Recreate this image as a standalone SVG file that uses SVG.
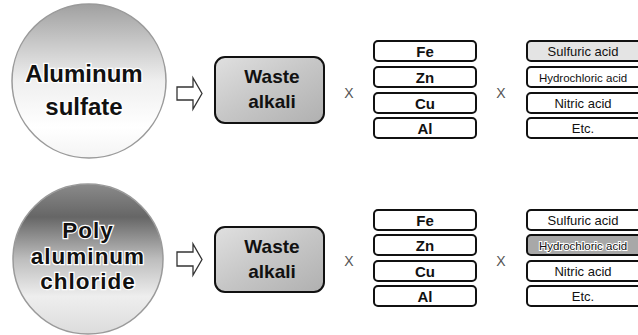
<svg xmlns="http://www.w3.org/2000/svg" width="638" height="335" viewBox="0 0 638 335">
<defs>
<linearGradient id="c1" x1="0" y1="0" x2="0" y2="1">
<stop offset="0" stop-color="#a0a0a0"/>
<stop offset="0.25" stop-color="#c8c8c8"/>
<stop offset="0.5" stop-color="#efefef"/>
<stop offset="0.8" stop-color="#ffffff"/>
<stop offset="1" stop-color="#f4f4f4"/>
</linearGradient>
<linearGradient id="c2" x1="0" y1="0" x2="0" y2="1">
<stop offset="0" stop-color="#8a8a8a"/>
<stop offset="0.22" stop-color="#666666"/>
<stop offset="0.5" stop-color="#bdbdbd"/>
<stop offset="0.75" stop-color="#eeeeee"/>
<stop offset="1" stop-color="#dcdcdc"/>
</linearGradient>
<linearGradient id="wa" x1="0" y1="0" x2="1" y2="1">
<stop offset="0" stop-color="#e0e0e0"/>
<stop offset="0.5" stop-color="#c6c6c6"/>
<stop offset="1" stop-color="#b0b0b0"/>
</linearGradient>
<linearGradient id="al" x1="0" y1="0" x2="1" y2="0">
<stop offset="0" stop-color="#d8d8d8"/>
<stop offset="0.45" stop-color="#f2f2f2"/>
<stop offset="0.6" stop-color="#ffffff"/>
<stop offset="1" stop-color="#d0d0d0"/>
</linearGradient>
</defs>
<style>
.circ{stroke:#9a9a9a;stroke-width:1.5}
.big{font-family:"Liberation Sans",Arial,sans-serif;font-weight:700;font-size:24px;text-anchor:middle;fill:#111;stroke:#fff;stroke-width:2.5;paint-order:stroke}
.big2{font-size:22.5px;letter-spacing:1px}
.wa{fill:url(#wa);stroke:#111;stroke-width:2}
.wat{font-family:"Liberation Sans",Arial,sans-serif;font-weight:700;font-size:19px;text-anchor:middle;fill:#111}
.arr{fill:#fff;stroke:#333;stroke-width:1.3;stroke-linejoin:miter}
.x{font-family:"Liberation Sans",sans-serif;font-size:14px;text-anchor:middle;fill:#555}
.box{fill:#fff;stroke:#111;stroke-width:2}
.mt{font-family:"Liberation Sans",sans-serif;font-weight:700;font-size:15px;text-anchor:middle;fill:#111}
.at{font-family:"Liberation Sans",sans-serif;font-size:13px;text-anchor:middle;fill:#111}
.ah{font-size:11.5px}
.halo{stroke:#fff;stroke-width:2;paint-order:stroke}
</style>

<g id="row1-circle">
<circle class="circ" cx="89" cy="81" r="77" fill="url(#c1)"/>
<text class="big" x="84" y="82">Aluminum</text>
<text class="big" x="84" y="115">sulfate</text>
</g>
<g id="row2-circle">
<circle class="circ" cx="88" cy="259" r="75" fill="url(#c2)"/>
<text class="big big2" x="88" y="238">Poly</text>
<text class="big big2" x="88" y="263.5">aluminum</text>
<text class="big big2" x="88" y="289">chloride</text>
</g>

<g id="connectors">
<path class="arr" d="M177,87 H193 V78 L202,93.5 L193,109 V100 H177 Z"/>
<path class="arr" d="M177,252 H193 V244 L202,259.5 L193,275 V266 H177 Z"/>
<text class="x" x="349" y="98">X</text>
<text class="x" x="501" y="98">X</text>
<text class="x" x="349" y="266">X</text>
<text class="x" x="501" y="266">X</text>
</g>

<g id="row1-waste">
<rect class="wa" x="215" y="57" width="109" height="66" rx="10"/>
<text class="wat" x="272" y="83">Waste</text>
<text class="wat" x="272" y="108">alkali</text>
</g>
<g id="row2-waste">
<rect class="wa" x="215" y="227" width="109" height="65" rx="10"/>
<text class="wat" x="272" y="253">Waste</text>
<text class="wat" x="272" y="278">alkali</text>
</g>

<g id="row1-metals">
<rect class="box" x="374" y="41" width="102" height="20" rx="4"/>
<text class="mt" x="425" y="57">Fe</text>
<rect class="box" x="374" y="67" width="102" height="20" rx="4"/>
<text class="mt" x="425" y="83">Zn</text>
<rect class="box" x="374" y="93" width="102" height="20" rx="4"/>
<text class="mt" x="425" y="109">Cu</text>
<rect class="box" x="374" y="118" width="102" height="20" rx="4" fill="url(#al)"/>
<text class="mt" x="425" y="134">Al</text>
</g>
<g id="row2-metals">
<rect class="box" x="374" y="210" width="102" height="20" rx="4"/>
<text class="mt" x="425" y="226">Fe</text>
<rect class="box" x="374" y="235" width="102" height="20" rx="4"/>
<text class="mt" x="425" y="251">Zn</text>
<rect class="box" x="374" y="261" width="102" height="20" rx="4"/>
<text class="mt" x="425" y="277">Cu</text>
<rect class="box" x="374" y="286" width="102" height="20" rx="4" fill="url(#al)"/>
<text class="mt" x="425" y="302">Al</text>
</g>

<g id="row1-acids">
<rect class="box" x="527" y="41" width="120" height="20" rx="4" style="fill:#e4e4e4"/>
<text class="at" x="583" y="56">Sulfuric acid</text>
<rect class="box" x="527" y="67" width="120" height="20" rx="4"/>
<text class="at ah" x="583" y="82">Hydrochloric  acid</text>
<rect class="box" x="527" y="93" width="120" height="20" rx="4"/>
<text class="at" x="583" y="108">Nitric acid</text>
<rect class="box" x="527" y="118" width="120" height="20" rx="4"/>
<text class="at" x="583" y="133">Etc.</text>
</g>
<g id="row2-acids">
<rect class="box" x="527" y="210" width="120" height="20" rx="4"/>
<text class="at" x="583" y="225">Sulfuric acid</text>
<rect class="box" x="527" y="235" width="120" height="20" rx="4" style="fill:#a8a8a8"/>
<text class="at ah halo" x="583" y="250">Hydrochloric  acid</text>
<rect class="box" x="527" y="261" width="120" height="20" rx="4"/>
<text class="at" x="583" y="276">Nitric acid</text>
<rect class="box" x="527" y="286" width="120" height="20" rx="4"/>
<text class="at" x="583" y="301">Etc.</text>
</g>
</svg>
